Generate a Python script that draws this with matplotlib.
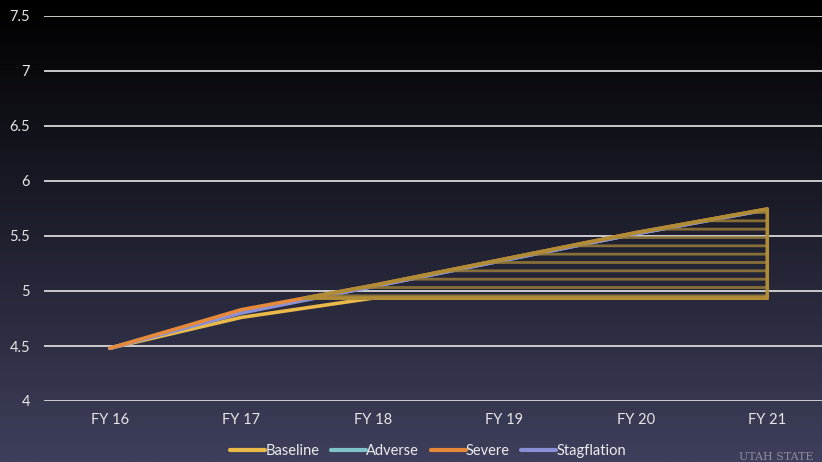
import numpy as np
import matplotlib.pyplot as plt
from matplotlib.patches import Polygon

plt.rcParams['font.family'] = ['Lato', 'DejaVu Sans']

# Data
years = ["FY 16", "FY 17", "FY 18", "FY 19", "FY 20", "FY 21"]
baseline = [4.48, 4.76, 4.935, 4.935, 4.935, 4.935]
adverse = [4.48, 4.81, 5.04, 5.28, 5.52, 5.74]
severe = [4.48, 4.83, 5.05, 5.29, 5.53, 5.745]
stagflation = [4.48, 4.80, 5.04, 5.28, 5.52, 5.74]

# name, values, colour, draw order
series = [
    ("Baseline", baseline, "#e9b949", 3.0),
    ("Adverse", adverse, "#7fc3cb", 3.1),
    ("Severe", severe, "#e6893a", 3.3),
    ("Stagflation", stagflation, "#8a90d6", 3.2),
]

fig = plt.figure(figsize=(8.22, 4.62), dpi=100)

# background gradient, black at the top to slate blue at the bottom
bg = fig.add_axes([0, 0, 1, 1], zorder=-10)
top = np.array([0, 0, 0])
bot = np.array([62, 63, 92]) / 255
t = np.linspace(0, 1, 256)[:, None]
grad = (1 - t) * top + t * bot
bg.imshow(grad[:, None, :], aspect="auto", extent=[0, 1, 0, 1], origin="upper")
bg.axis("off")

ax = fig.add_axes([44 / 822, 1 - 401 / 462, 789 / 822, 385 / 462])
ax.set_facecolor("none")
x = np.arange(len(years))

for name, vals, col, z in series:
    ax.plot(x, vals, color=col, lw=2.6, label=name, solid_capstyle="round", zorder=z)

# hatched gap between baseline and severe path
lvl = baseline[2]
i = 1
frac = (lvl - severe[i]) / (severe[i + 1] - severe[i])
x0 = x[i] + frac
pts = [(x0, lvl)] + [(x[k], severe[k]) for k in range(2, len(x))] + [(x[-1], lvl)]
plt.rcParams['hatch.linewidth'] = 2.0
ax.add_patch(Polygon(pts, closed=True, facecolor="none", edgecolor="#9a7d3a",
                     hatch="--", lw=0, alpha=0.85, zorder=4))
ax.add_patch(Polygon(pts, closed=True, facecolor="none", edgecolor="#b08c36",
                     lw=2.6, joinstyle="round", zorder=5))

ax.set_xlim(-0.5, 5.5)
ax.set_ylim(4, 7.5)
ax.set_yticks(np.arange(4, 7.51, 0.5))
ax.set_yticklabels(["4", "4.5", "5", "5.5", "6", "6.5", "7", "7.5"])
ax.set_xticks(x)
ax.set_xticklabels(years)
ax.grid(axis="y", color="#d8d8d8", lw=1.3)
ax.set_axisbelow(True)
for s in ax.spines.values():
    s.set_visible(False)
ax.tick_params(length=0, colors="#e6e6e6", labelsize=10.5, pad=10)
ax.tick_params(axis="x", pad=9)

leg = ax.legend(loc="center", bbox_to_anchor=(0.487, -0.13), ncol=4, frameon=False,
                handlelength=2.4, handletextpad=0.0, columnspacing=0.8, fontsize=10.5)
for txt in leg.get_texts():
    txt.set_color("#ececec")
for ln in leg.get_lines():
    ln.set_linewidth(3)

fig.text(0.99, 0.004, "UTAH STATE", color="#8a8aa0", fontsize=8, ha="right",
         family="DejaVu Serif")

fig.savefig("out.png", dpi=100)
